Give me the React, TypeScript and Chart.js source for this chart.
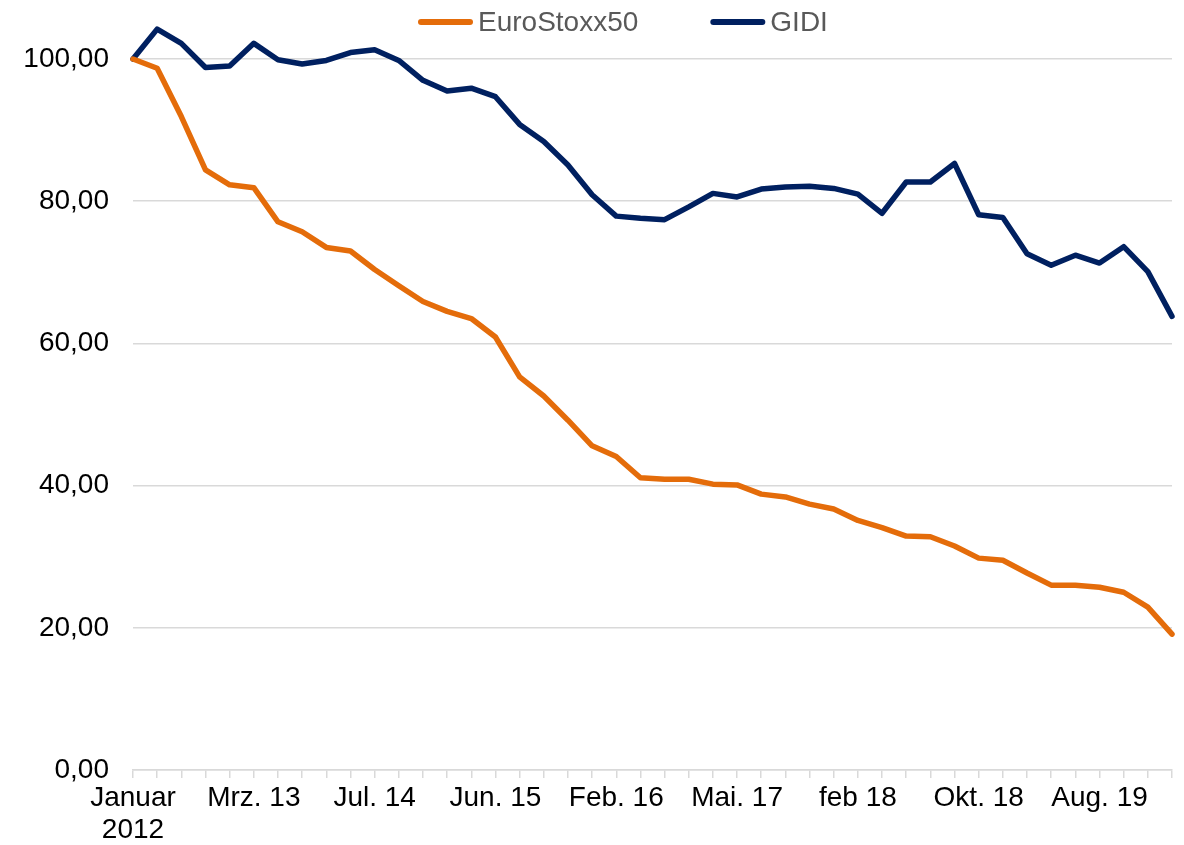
import React, { useEffect, useRef } from "react";
import { Chart, registerables } from "chart.js";

Chart.register(...registerables);

const categories: (string | string[])[] = [
  ["Januar", "2012"], "", "", "", "", "Mrz. 13", "", "", "", "",
  "Jul. 14", "", "", "", "", "Jun. 15", "", "", "", "",
  "Feb. 16", "", "", "", "", "Mai. 17", "", "", "", "",
  "feb 18", "", "", "", "", "Okt. 18", "", "", "", "",
  "Aug. 19", "", "", "",
];

const euroStoxx50 = [
  100.0, 98.7, 91.9, 84.4, 82.3, 81.9, 77.1, 75.7, 73.5, 73.0,
  70.4, 68.1, 65.9, 64.5, 63.5, 60.9, 55.3, 52.6, 49.2, 45.6,
  44.1, 41.1, 40.9, 40.9, 40.2, 40.1, 38.8, 38.4, 37.4, 36.7,
  35.1, 34.1, 32.9, 32.8, 31.5, 29.8, 29.5, 27.7, 26.0, 26.0,
  25.7, 25.0, 22.9, 19.1,
];

const gidi = [
  100.0, 104.2, 102.2, 98.8, 99.0, 102.2, 99.9, 99.3, 99.8, 100.9,
  101.3, 99.8, 97.0, 95.5, 95.9, 94.7, 90.8, 88.4, 85.1, 80.9,
  77.9, 77.6, 77.4, 79.2, 81.1, 80.6, 81.7, 82.0, 82.1, 81.8,
  81.0, 78.3, 82.7, 82.7, 85.3, 78.1, 77.7, 72.6, 71.0, 72.4,
  71.3, 73.6, 70.1, 63.8,
];

const seriesNames = ["EuroStoxx50", "GIDI"];
const seriesColors = ["#E46C0A", "#002060"];

const FONT = "'Liberation Sans', Arial, sans-serif";
const FONT_SIZE = 28;

const legendPlugin = {
  id: "lineLegend",
  afterDraw(chart: any) {
    const ctx = chart.ctx;
    ctx.save();
    ctx.font = `${FONT_SIZE}px ${FONT}`;
    ctx.textBaseline = "middle";
    ctx.textAlign = "left";
    const y = 22;
    let x = 421;
    chart.data.datasets.forEach((ds: any) => {
      ctx.strokeStyle = ds.borderColor;
      ctx.lineWidth = 6;
      ctx.lineCap = "round";
      ctx.beginPath();
      ctx.moveTo(x, y);
      ctx.lineTo(x + 49, y);
      ctx.stroke();
      const tx = x + 57;
      ctx.fillStyle = "#595959";
      ctx.fillText(ds.label, tx, y + 1);
      x = tx + ctx.measureText(ds.label).width + 75;
    });
    ctx.restore();
  },
};

export default function App() {
  const ref = useRef<HTMLCanvasElement | null>(null);

  useEffect(() => {
    document.body.style.margin = "0";
    if (!ref.current) return;
    const mkDataset = (i: number, data: number[]) =>
      ({
        label: seriesNames[i],
        data,
        borderColor: seriesColors[i],
        backgroundColor: seriesColors[i],
        borderWidth: 5.5,
        pointRadius: 0,
        tension: 0,
        borderCapStyle: "round",
        borderJoinStyle: "round",
        clip: false,
      } as any);
    const chart = new Chart(ref.current, {
      type: "line",
      data: {
        labels: categories,
        datasets: [mkDataset(0, euroStoxx50), mkDataset(1, gidi)],
      },
      options: {
        animation: false,
        responsive: false,
        devicePixelRatio: 1,
        layout: { padding: { top: 59, right: 12, left: 0, bottom: 0 } },
        plugins: {
          legend: { display: false },
          tooltip: { enabled: false },
        },
        scales: {
          x: {
            type: "category",
            offset: false,
            grid: {
              display: true,
              drawOnChartArea: false,
              drawTicks: true,
              tickLength: 8,
              color: "#D9D9D9",
              lineWidth: 1.5,
            },
            border: { display: true, color: "#D9D9D9", width: 1.5 },
            ticks: {
              autoSkip: false,
              maxRotation: 0,
              minRotation: 0,
              padding: 4,
              color: "#000000",
              font: { family: FONT, size: FONT_SIZE, lineHeight: 1.15 },
            },
            afterFit: (scale: any) => {
              scale.height = 75;
            },
          },
          y: {
            min: 0,
            max: 100,
            grid: {
              color: "#D9D9D9",
              lineWidth: 1.5,
              drawTicks: false,
            },
            border: { display: false },
            ticks: {
              stepSize: 20,
              padding: 24,
              color: "#000000",
              font: { family: FONT, size: FONT_SIZE },
              callback: (v: any) => Number(v).toFixed(2).replace(".", ","),
            },
            afterFit: (scale: any) => {
              scale.width = 133;
            },
          },
        },
      },
      plugins: [legendPlugin],
    });
    return () => chart.destroy();
  }, []);

  return (
    <div style={{ position: "absolute", left: 0, top: 0, width: 1184, height: 845 }}>
      <canvas ref={ref} width={1184} height={845} style={{ display: "block" }} />
    </div>
  );
}
